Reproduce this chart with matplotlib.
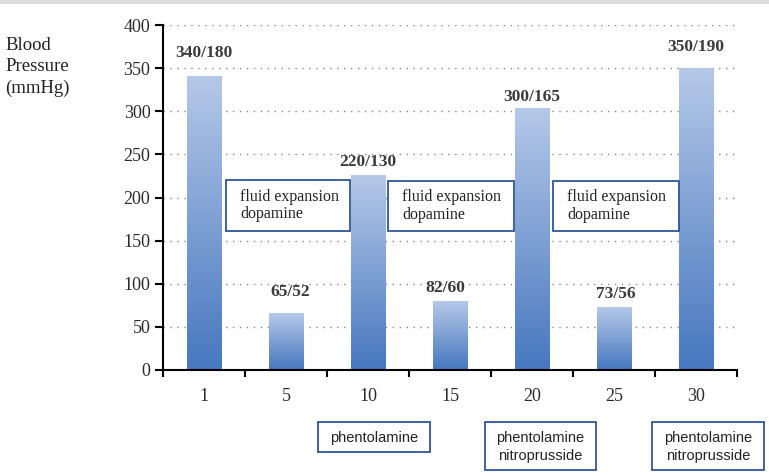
import matplotlib
matplotlib.use("Agg")
import matplotlib.pyplot as plt
import numpy as np
from matplotlib.colors import LinearSegmentedColormap

categories = ["1", "5", "10", "15", "20", "25", "30"]
values = [340, 65, 225, 80, 303, 72, 350]
labels = ["340/180", "65/52", "220/130", "82/60", "300/165", "73/56", "350/190"]
yticks = [0, 50, 100, 150, 200, 250, 300, 350, 400]
top_notes = ["fluid expansion\ndopamine"] * 3
bottom_notes = ["phentolamine", "phentolamine\nnitroprusside", "phentolamine\nnitroprusside"]

W, H = 769, 476
serif = ["Liberation Serif", "DejaVu Serif"]
fig = plt.figure(figsize=(W / 100, H / 100), dpi=100)
ax = fig.add_axes([163 / W, 1 - 370 / H, (737 - 163) / W, (370 - 25) / H])

x = np.arange(len(categories))
bars = ax.bar(x, values, width=0.42, color="none", zorder=2)
cmap = LinearSegmentedColormap.from_list("g", ["#4677bf", "#b5c8e8"])
grad = np.linspace(0, 1, 256).reshape(-1, 1)
for b in bars:
    x0, w, h = b.get_x(), b.get_width(), b.get_height()
    ax.imshow(grad, cmap=cmap, origin="lower", aspect="auto",
              extent=[x0, x0 + w, 0, h], zorder=2)

ax.set_xlim(-0.5, len(categories) - 0.5)
ax.set_ylim(0, 400)
ax.set_yticks(yticks)
ax.set_yticklabels([str(v) for v in yticks], fontfamily=serif, fontsize=13, color="#2a2a2a")
ax.set_xticks(x)
ax.set_xticklabels(categories, fontfamily=serif, fontsize=13, color="#2a2a2a")
ax.set_xticks(np.arange(-0.5, len(categories)), minor=True)
ax.tick_params(axis="x", which="major", length=0, pad=13)
ax.tick_params(axis="x", which="minor", length=5, width=1.5, direction="out")
ax.tick_params(axis="y", length=6, width=1.5, direction="out", pad=3)
for s in ["top", "right"]:
    ax.spines[s].set_visible(False)
ax.spines["left"].set_linewidth(1.5)
ax.spines["bottom"].set_linewidth(1.5)
for yv in yticks[1:]:
    ax.axhline(yv, color="#888888", linestyle=(0, (1, 4)), linewidth=1, zorder=1)

label_offsets = [27, 26, 16, 15, 14, 16, 24]
label_dx = [0, 0.05, 0, -0.06, 0, 0.02, 0]
for xi, v, lab, off, dx in zip(x, values, labels, label_offsets, label_dx):
    ax.text(xi + dx, v + off, lab, ha="center", va="center",
            fontsize=12.5, fontweight="bold", fontfamily=serif, color="#3a3a3a", zorder=4)

fig.text(5 / W, 1 - 67 / H, "Blood\nPressure\n(mmHg)", ha="left", va="center",
         fontsize=13.5, fontfamily=serif, color="#222222", linespacing=1.35)

edge = "#2f5597"
# top annotation boxes (pixel layout: left, top, right, bottom)
top_boxes = [(226, 180, 350, 231), (388, 181, 514, 231), (553, 181, 679, 231)]
for (l, t, r, bt), note in zip(top_boxes, top_notes):
    fig.patches.append(plt.Rectangle((l / W, 1 - bt / H), (r - l) / W, (bt - t) / H,
                                     transform=fig.transFigure, facecolor="white",
                                     edgecolor=edge, linewidth=1.3, zorder=5))
    fig.text((l + 14) / W, 1 - (t + bt) / 2 / H, note, ha="left", va="center",
             fontsize=11.5, fontfamily=serif, color="#222222", linespacing=1.15, zorder=6)

bottom_boxes = [(318, 422, 430, 452), (485, 422, 596, 470), (652, 422, 764, 470)]
for (l, t, r, bt), note in zip(bottom_boxes, bottom_notes):
    fig.patches.append(plt.Rectangle((l / W, 1 - bt / H), (r - l) / W, (bt - t) / H,
                                     transform=fig.transFigure, facecolor="white",
                                     edgecolor=edge, linewidth=1.3, zorder=5))
    fig.text((l + r) / 2 / W, 1 - ((t + bt) / 2 + 1) / H, note, ha="center", va="center",
             fontsize=10.5, fontfamily=["Liberation Sans", "DejaVu Sans"],
             color="#222222", linespacing=1.3, zorder=6)

fig.patches.append(plt.Rectangle((0, 1 - 4 / H), 1, 4 / H, transform=fig.transFigure,
                                 facecolor="#dddddd", edgecolor="none"))
fig.savefig("out.png", dpi=100)
